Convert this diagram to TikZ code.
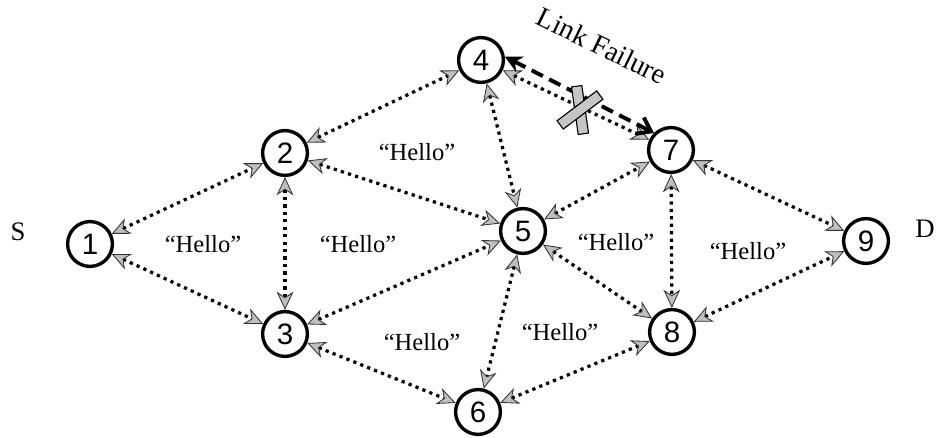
\documentclass[tikz,border=0pt]{standalone}
\usepackage{fontspec}
\setmainfont{Liberation Serif}
\newfontfamily\numfont{Liberation Sans}
\usepackage{tikz}
\usetikzlibrary{arrows.meta}

\tikzset{
  router/.style={circle, draw, line width=2.4pt, minimum size=1.12cm, inner sep=0pt, font=\numfont\fontsize{21}{21}\selectfont},
  hello/.style={line width=2.3pt, black, dash pattern=on 2.3pt off 3pt,
    {Stealth[length=13pt, width=12pt, inset=4pt, fill=gray!50, color=black!80, line width=0.6pt]}-{Stealth[length=13pt, width=12pt, inset=4pt, fill=gray!50, color=black!80, line width=0.6pt]}},
  msg/.style={font=\fontsize{17.5}{17.5}\selectfont},
  failed/.style={line width=2.8pt, dash pattern=on 9pt off 5pt,
    {Stealth[length=12pt, width=12pt]}-{Straight Barb[length=9pt, width=13pt]}},
  cross/.style={draw, line width=0.8pt, fill=gray!45}
}

\begin{document}
\begin{tikzpicture}
\useasboundingbox (0,0) rectangle (23.4,10.95);

% routers
\foreach \n/\x/\y in {1/2.25/4.85, 2/7.125/7.125, 3/7.125/2.6, 4/12.025/9.45, 5/13.075/5.175,
                      6/11.95/0.65, 7/16.775/7.2, 8/16.8/2.65, 9/21.65/4.925} {
	\node[router] (n\n) at (\x,\y) {\n};
}

\node[font=\fontsize{19}{19}\selectfont] (src) at (0.45,5.15) {S};
\node[font=\fontsize{19}{19}\selectfont] (dst) at (23.125,5.225) {D};

% hello exchanges between neighbours
\foreach \a/\b in {1/2, 1/3, 2/3, 2/4, 2/5, 3/5, 3/6, 4/5, 4/7, 5/7, 5/6, 5/8, 6/8, 7/8, 7/9, 8/9} {
	\draw[hello] (n\a) -- (n\b);
}

\node[msg] (h1) at (10.425,7.15) {``Hello''};
\node[msg] (h2) at (5.075,4.85) {``Hello''};
\node[msg] (h3) at (8.95,4.85) {``Hello''};
\node[msg] (h4) at (10.55,2.4) {``Hello''};
\node[msg] (h5) at (15.4,4.9) {``Hello''};
\node[msg] (h6) at (18.7,4.675) {``Hello''};
\node[msg] (h7) at (14.0,2.65) {``Hello''};

% broken link 4-7
\draw[failed] (n4.8) -- (n7.135);
\node[rotate=-26, font=\fontsize{20}{20}\selectfont] (fail) at (15.05,9.8) {Link Failure};

\begin{scope}[shift={(14.5,8.2)}]
	\draw[cross, rotate=-82] (-0.6,-0.13) rectangle (0.6,0.13);
	\draw[cross, rotate=37] (-0.62,-0.13) rectangle (0.62,0.13);
\end{scope}

\end{tikzpicture}
\end{document}
